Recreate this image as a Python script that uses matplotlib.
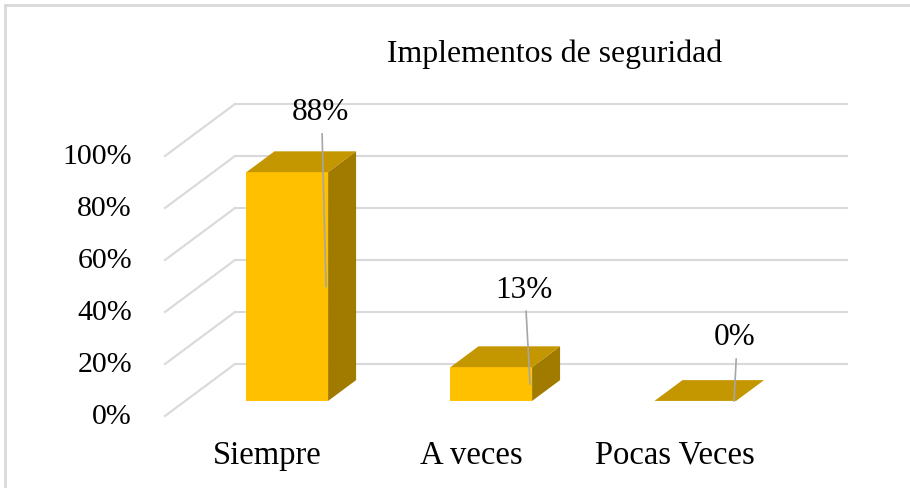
import matplotlib
matplotlib.use("Agg")
import matplotlib.pyplot as plt
from matplotlib.patches import Polygon

# Excel-style 3D column chart, drawn by hand with polygons.

categories = ["Siempre", "A veces", "Pocas Veces"]
values = [88, 13, 0]
value_labels = ["88%", "13%", "0%"]
ticks = [0, 20, 40, 60, 80, 100]
tick_labels = ["0%", "20%", "40%", "60%", "80%", "100%"]
title = "Implementos de seguridad"

# where the data labels sit, relative to each bar (layout only)
label_dx = [0.26, 0.26, 0.29]
label_dy = [29.0, 35.8, 30.4]

FRONT = "#FFC000"
TOP = "#C49600"
SIDE = "#A17B00"
GRID = "#D9D9D9"
LEADER = "#A6A6A6"

DX, DY = 0.343, 20.0      # full depth offset of the back wall
Z0, Z1 = 0.29, 0.69       # depth span of the bars
WIDTH = 0.40

plt.rcParams['font.family'] = ['Liberation Serif', 'DejaVu Serif']

fig = plt.figure(figsize=(9.1, 4.89), dpi=100)
ax = fig.add_axes([0, 0, 1, 1])
ax.set_xlim(-267 / 204, (910 - 267) / 204)
ax.set_ylim(-72 / 2.6, (489 - 72) / 2.6)
ax.axis('off')

# walls: left side diagonals + back wall lines
for t, lab in zip(ticks, tick_labels):
    ax.plot([-0.5, -0.5 + DX], [t, t + DY], color=GRID, lw=1.5, zorder=1)
    ax.plot([-0.5 + DX, 2.5 + DX], [t + DY, t + DY], color=GRID, lw=1.5, zorder=1)
    ax.text(-0.662, t, lab, ha='right', va='center', fontsize=21.5)

for i, (cat, v) in enumerate(zip(categories, values)):
    x0 = i - WIDTH / 2 + Z0 * DX
    x1 = x0 + WIDTH
    y0 = Z0 * DY
    ddx = (Z1 - Z0) * DX
    ddy = (Z1 - Z0) * DY
    if v > 0:
        ax.add_patch(Polygon([(x0, y0), (x1, y0), (x1, y0 + v), (x0, y0 + v)],
                             closed=True, fc=FRONT, ec='none', zorder=3))
        ax.add_patch(Polygon([(x1, y0), (x1 + ddx, y0 + ddy), (x1 + ddx, y0 + ddy + v), (x1, y0 + v)],
                             closed=True, fc=SIDE, ec='none', zorder=3))
    ax.add_patch(Polygon([(x0, y0 + v), (x1, y0 + v), (x1 + ddx, y0 + ddy + v), (x0 + ddx, y0 + ddy + v)],
                         closed=True, fc=TOP, ec='none', zorder=3))

    # data label with leader line
    lx = i + label_dx[i]
    ly = v + label_dy[i]
    ax.text(lx, ly, value_labels[i], ha='center', va='center', fontsize=22.5, zorder=5)
    ax.plot([lx + 0.01, x1 - 0.01], [ly - 8.5, y0 + v / 2], color=LEADER, lw=1.2, zorder=4)

    ax.text(i, -14.8, cat, ha='center', va='center', fontsize=23.5)

fig.text(555 / 910, 1 - 54 / 489, title, ha='center', va='center', fontsize=22.9)

# chart border (only top and left show)
ax.plot([5 / 910, 1], [1 - 6 / 489] * 2, transform=fig.transFigure, color=GRID, lw=2, clip_on=False)
ax.plot([5 / 910] * 2, [0, 1 - 6 / 489], transform=fig.transFigure, color=GRID, lw=2, clip_on=False)

fig.savefig("out.png", dpi=100)
